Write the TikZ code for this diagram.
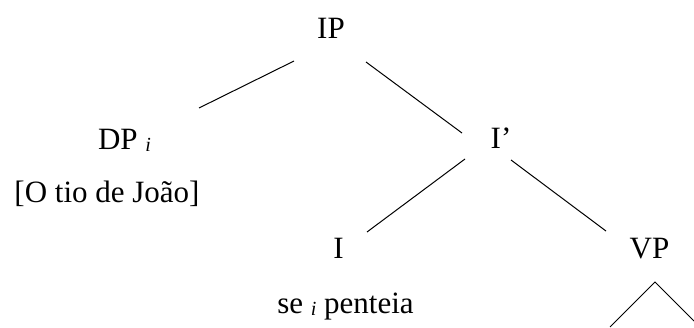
\documentclass[tikz,border=0pt]{standalone}
\usepackage{fontspec}
\setmainfont{Liberation Serif}
\newcommand{\subi}{\raisebox{-2pt}{\fontsize{20}{22}\selectfont\itshape i}}

\begin{document}
\begin{tikzpicture}[x=1pt,y=-1pt]
\tikzstyle{lab}=[inner sep=0pt,anchor=base,font=\fontsize{31}{36}\selectfont]
\tikzstyle{branch}=[line width=1pt]
\useasboundingbox (0,0) rectangle (694,327);
\node[lab] (ip) at (331,38) {IP};
\node[lab] (dp) at (124.5,149) {DP \subi};
\node[lab] (dpt) at (107,202) {[O tio de João]};
\node[lab] (ibar) at (501,148) {I’};
\node[lab] (ihead) at (338.5,258) {I};
\node[lab] (se) at (345.5,313) {se \subi\ penteia};
\node[lab] (vp) at (649.5,258) {VP};
\draw[branch] ([shift={(-37,23)}]ip.base) -- ([shift={(74.5,-41)}]dp.base);
\draw[branch] ([shift={(35,24)}]ip.base) -- ([shift={(-39,-15)}]ibar.base);
\draw[branch] ([shift={(-36,11)}]ibar.base) -- ([shift={(28.5,-26)}]ihead.base);
\draw[branch] ([shift={(10,12)}]ibar.base) -- ([shift={(-43.5,-27)}]vp.base);
% triangle under VP
\draw[branch] ([shift={(-39.5,69)}]vp.base) -- ([shift={(5.5,24)}]vp.base) -- ([shift={(44.5,63)}]vp.base);
\end{tikzpicture}
\end{document}
